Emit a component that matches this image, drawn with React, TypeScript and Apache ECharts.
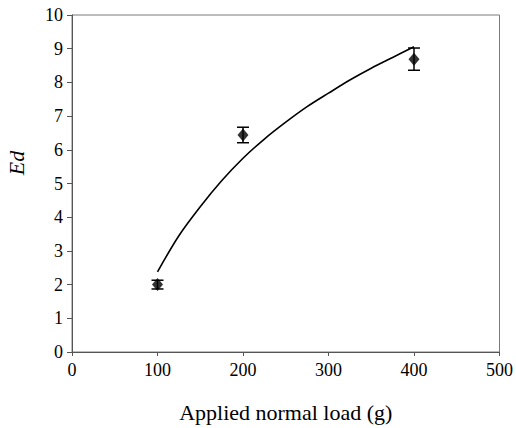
import React, { useEffect, useRef } from "react";
import * as echarts from "echarts";

const loads = [100, 200, 400];
const edMeans = [2.0, 6.44, 8.69];
const edErrors = [0.13, 0.23, 0.33];

const fitLoads = [100, 125, 150, 175, 200, 225, 250, 275, 300, 325, 350, 375, 400];
const fitEd = [2.38, 3.45, 4.31, 5.08, 5.75, 6.32, 6.82, 7.28, 7.68, 8.07, 8.42, 8.74, 9.06];

const xTicks = [0, 100, 200, 300, 400, 500];
const yTicks = [0, 1, 2, 3, 4, 5, 6, 7, 8, 9, 10];

const FONT = "Liberation Serif";

export default function App() {
  const ref = useRef<HTMLDivElement>(null);
  useEffect(() => {
    if (!ref.current) return;
    const chart = echarts.init(ref.current, null, { renderer: "svg" });
    const points = loads.map((x, i) => [x, edMeans[i]]);
    const errs = loads.map((x, i) => [x, edMeans[i] - edErrors[i], edMeans[i] + edErrors[i]]);
    const fit = fitLoads.map((x, i) => [x, fitEd[i]]);
    const label = {
      color: "#000",
      fontFamily: FONT,
      fontSize: 18,
      fontStyle: "normal",
      fontWeight: "normal",
      margin: 9,
    };
    chart.setOption({
      animation: false,
      backgroundColor: "#ffffff",
      textStyle: { fontFamily: FONT, color: "#000" },
      grid: {
        left: 72,
        right: 16,
        top: 15,
        bottom: 76,
        show: true,
        borderColor: "#7a7a7a",
        borderWidth: 1,
      },
      xAxis: {
        type: "value",
        min: xTicks[0],
        max: xTicks[xTicks.length - 1],
        interval: 100,
        splitLine: { show: false },
        axisLine: { show: true, lineStyle: { color: "#555", width: 1 } },
        axisTick: { show: true, length: 4, lineStyle: { color: "#555" } },
        axisLabel: label,
        name: "Applied normal load (g)",
        nameLocation: "middle",
        nameGap: 49,
        nameTextStyle: { color: "#000", fontFamily: FONT, fontSize: 22, fontStyle: "normal" },
      },
      yAxis: {
        type: "value",
        min: yTicks[0],
        max: yTicks[yTicks.length - 1],
        interval: 1,
        splitLine: { show: false },
        axisLine: { show: true, lineStyle: { color: "#555", width: 1 } },
        axisTick: { show: true, length: 5, lineStyle: { color: "#555" } },
        axisLabel: label,
      },
      graphic: [
        {
          type: "text",
          x: 16,
          y: 163,
          rotation: Math.PI / 2,
          style: {
            text: "Ed",
            fontFamily: FONT,
            fontStyle: "italic",
            fontSize: 22,
            fill: "#000",
            align: "center",
            verticalAlign: "middle",
          },
        },
      ],
      series: [
        {
          type: "line",
          data: fit,
          smooth: 0.3,
          showSymbol: false,
          lineStyle: { color: "#000", width: 1.6 },
          z: 2,
        },
        {
          type: "custom",
          data: errs,
          z: 3,
          renderItem: (params: any, api: any) => {
            const x = api.value(0);
            const lo = api.coord([x, api.value(1)]);
            const hi = api.coord([x, api.value(2)]);
            const hw = 6;
            const st = { stroke: "#000", lineWidth: 1.5 };
            return {
              type: "group",
              children: [
                { type: "line", shape: { x1: lo[0], y1: lo[1], x2: hi[0], y2: hi[1] }, style: st },
                { type: "line", shape: { x1: lo[0] - hw, y1: lo[1], x2: lo[0] + hw, y2: lo[1] }, style: st },
                { type: "line", shape: { x1: hi[0] - hw, y1: hi[1], x2: hi[0] + hw, y2: hi[1] }, style: st },
              ],
            };
          },
        },
        {
          type: "scatter",
          data: points,
          symbol: "diamond",
          symbolSize: [11, 13],
          itemStyle: { color: "#000" },
          z: 4,
        },
      ],
    });
    return () => chart.dispose();
  }, []);
  return (
    <div
      ref={ref}
      style={{ position: "fixed", left: 0, top: 0, width: 516, height: 428 }}
    />
  );
}
